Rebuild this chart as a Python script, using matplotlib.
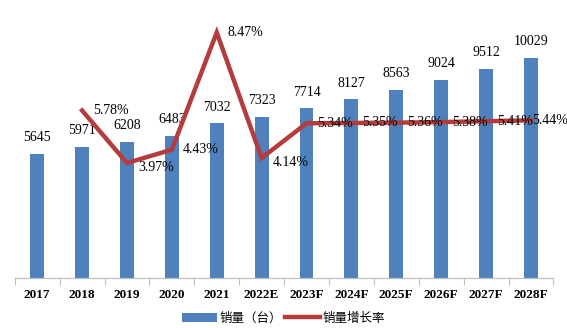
import numpy as np
from matplotlib import pyplot as plt
from matplotlib.ticker import FixedLocator, NullFormatter

years = ['2017', '2018', '2019', '2020', '2021', '2022E', '2023F',
         '2024F', '2025F', '2026F', '2027F', '2028F']
sales = [5645, 5971, 6208, 6483, 7032, 7323, 7714, 8127, 8563, 9024, 9512, 10029]
growth = [None, 5.78, 3.97, 4.43, 8.47, 4.14, 5.34, 5.35, 5.36, 5.38, 5.41, 5.44]

plt.rcParams['font.family'] = ['Liberation Serif', 'Noto Sans CJK SC']

fig = plt.figure(figsize=(5.67, 3.28), dpi=100)
ax = fig.add_axes([0.026, 0.152, 0.95, 0.818])
ax2 = ax.twinx()

x = np.arange(len(years))
ax.bar(x, sales, width=0.31, color='#4F81BD', label='销量（台）', zorder=2)
for xi, v in zip(x, sales):
    ax.annotate(str(v), (xi, v), xytext=(0, 7), textcoords='offset points',
                ha='center', va='bottom', fontsize=10)

gx = [xi for xi, g in zip(x, growth) if g is not None]
gy = [g for g in growth if g is not None]
ax2.plot(gx, gy, color='#B43C3C', lw=3.2, label='销量增长率', zorder=3,
         solid_joinstyle='miter')
for i, (xi, g) in enumerate(zip(gx, gy)):
    dy = -3 if g < 4.2 else 0
    dx = 1 if i == len(gx) - 1 else 8
    ax2.annotate(f'{g:.2f}%', (xi, g), xytext=(dx, dy), textcoords='offset points',
                 ha='left', va='center', fontsize=10)

ax.set_xlim(-0.5, len(years) - 0.5)
ax.set_ylim(0, 12200)
ax2.set_ylim(0, 9.25)
ax.set_yticks([])
ax2.set_yticks([])

ax.set_xticks(x)
ax.set_xticklabels(years, fontsize=9.5, fontweight='bold')
ax.tick_params(axis='x', length=0, pad=8)
ax.xaxis.set_minor_locator(FixedLocator(np.arange(-0.5, len(years), 1)))
ax.xaxis.set_minor_formatter(NullFormatter())
ax.tick_params(axis='x', which='minor', length=5, color='#BFBFBF', width=0.8)

for a in (ax, ax2):
    for s in ('top', 'left', 'right'):
        a.spines[s].set_visible(False)
    a.spines['bottom'].set_color('#BFBFBF')

h1, l1 = ax.get_legend_handles_labels()
h2, l2 = ax2.get_legend_handles_labels()
fig.legend(h1 + h2, l1 + l2, loc='center', bbox_to_anchor=(0.5, 0.03), ncol=2,
           frameon=False, prop={'family': 'Noto Sans CJK SC', 'size': 9},
           handlelength=2.8, handleheight=0.8, columnspacing=0.2, handletextpad=0.2)

fig.savefig('out.png', dpi=100)
